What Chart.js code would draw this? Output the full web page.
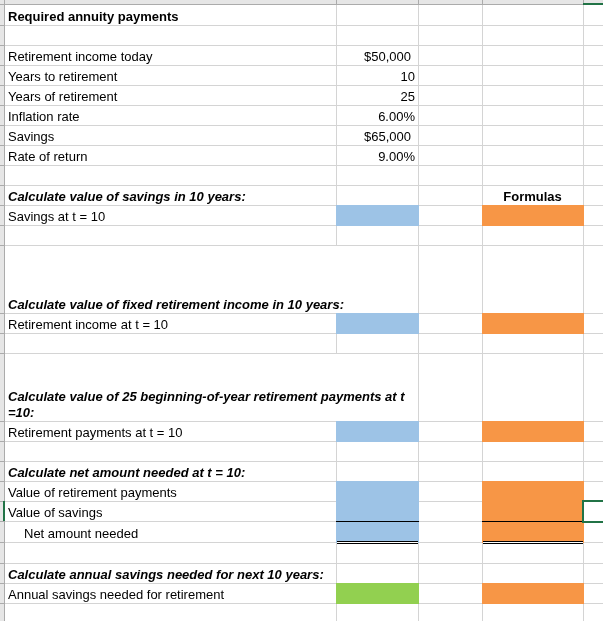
<!DOCTYPE html>
<html lang="en">
<head>
<meta charset="UTF-8">
<meta name="viewport" content="width=device-width, initial-scale=1.0">
<title>Required annuity payments</title>
<script src="https://cdn.jsdelivr.net/npm/chart.js"></script>
<style>
    html, body { margin: 0; padding: 0; background: #fff; }
    .sheet { position: relative; width: 603px; height: 621px; }
</style>
</head>
<body>
<div class="sheet"><canvas id="sheetCanvas"></canvas></div>
<script>
// sheet contents, one entry per row (column A)
const labels = [
    'Required annuity payments', '',
    'Retirement income today', 'Years to retirement', 'Years of retirement',
    'Inflation rate', 'Savings', 'Rate of return', '',
    'Calculate value of savings in 10 years:', 'Savings at t = 10', '',
    'Calculate value of fixed retirement income in 10 years:', 'Retirement income at t = 10', '',
    'Calculate value of 25 beginning-of-year retirement payments at t\n=10:', 'Retirement payments at t = 10', '',
    'Calculate net amount needed at t = 10:', 'Value of retirement payments', 'Value of savings', 'Net amount needed', '',
    'Calculate annual savings needed for next 10 years:', 'Annual savings needed for retirement', ''
];
// column B inputs
const inputs = ['', '', '$50,000', '10', '25', '6.00%', '$65,000', '9.00%'];
const formulaHeader = 'Formulas';
const formulaHeaderRow = 9;

const titleRow = 0;
const headingRows = [9, 12, 15, 18, 23];
const answerRows = [10, 13, 16, 19, 20, 21];       // blue cells, column B
const finalRows = [24];                            // green cell, column B
const formulaRows = [10, 13, 16, 19, 20, 21, 24];  // orange cells, column D
const totalRow = 21;                               // single border on top, double below
const selectedRow = 20;                            // active cell in column E

// sheet layout
const colWidths = [331, 82, 64, 101, 60];
const rowHeights = [20, 20, 20, 20, 20, 20, 20, 20, 20, 20, 20, 20, 68, 20, 20, 68,
                    20, 20, 20, 20, 20, 21, 21, 20, 20, 20];
const mergedRows = [12, 15];   // A:B merged, no gridline between
const indentRows = [21];
const originX = 5, originY = 5;

const colEdges = [originX];
colWidths.forEach(w => colEdges.push(colEdges[colEdges.length - 1] + w));
const rowEdges = [originY];
rowHeights.forEach(h => rowEdges.push(rowEdges[rowEdges.length - 1] + h));

const BLUE = '#9dc3e6', ORANGE = '#f79646', GREEN = '#92d050';
const GRID = '#d4d4d4', HEAD_BG = '#e6e6e6', HEAD_LINE = '#ababab', SEL = '#217346';
const FONT = '"Liberation Sans", Arial, sans-serif';

// group consecutive rows into blocks
const runs = rows => {
    const out = [];
    rows.forEach(r => {
        const last = out[out.length - 1];
        if (last && last[1] === r - 1) last[1] = r; else out.push([r, r]);
    });
    return out;
};

const blockDataset = (col, r0, r1, color) => ({
    data: [{ x: colEdges[col], y: rowEdges[r0] }, { x: colEdges[col + 1] + 1, y: rowEdges[r0] }],
    fill: { value: rowEdges[r1 + 1] + 1 },
    backgroundColor: color,
    borderWidth: 0,
    order: 3,
});

const lineDataset = (x0, x1, y, color) => ({
    data: [{ x: x0, y: y }, { x: x1, y: y }],
    fill: false,
    borderColor: color,
    borderWidth: 1,
    borderCapStyle: 'butt',
    order: 1,
});

const datasets = [];
runs(answerRows).forEach(([a, b]) => datasets.push(blockDataset(1, a, b, BLUE)));
runs(finalRows).forEach(([a, b]) => datasets.push(blockDataset(1, a, b, GREEN)));
runs(formulaRows).forEach(([a, b]) => datasets.push(blockDataset(3, a, b, ORANGE)));

// borders of the total row
[1, 3].forEach(col => {
    const top = rowEdges[totalRow] + 0.5;
    const bottom = rowEdges[totalRow + 1];
    datasets.push(lineDataset(colEdges[col], colEdges[col + 1] + 1, top, '#000'));
    datasets.push(lineDataset(colEdges[col] + 1, colEdges[col + 1], bottom + 0.5, '#fff'));
    datasets.push(lineDataset(colEdges[col] + 1, colEdges[col + 1], bottom - 0.5, '#000'));
    datasets.push(lineDataset(colEdges[col] + 1, colEdges[col + 1], bottom + 1.5, '#000'));
});

const sheetPlugin = {
    id: 'sheet',
    beforeDatasetsDraw(chart) {
        const { ctx, scales: { x, y } } = chart;
        ctx.save();
        ctx.fillStyle = '#fff';
        ctx.fillRect(0, 0, chart.width, chart.height);
        ctx.strokeStyle = GRID;
        ctx.lineWidth = 1;
        ctx.beginPath();
        rowEdges.slice(1).forEach(e => {
            const py = Math.round(y.getPixelForValue(e)) + 0.5;
            ctx.moveTo(x.getPixelForValue(originX), py);
            ctx.lineTo(chart.width, py);
        });
        colEdges.slice(1).forEach((e, i) => {
            const px = Math.round(x.getPixelForValue(e)) + 0.5;
            for (let r = 0; r < rowHeights.length; r++) {
                if (i === 0 && mergedRows.includes(r)) continue;
                ctx.moveTo(px, y.getPixelForValue(rowEdges[r]));
                ctx.lineTo(px, y.getPixelForValue(rowEdges[r + 1]) + 1);
            }
        });
        ctx.stroke();
        ctx.restore();
    },
    afterDatasetsDraw(chart) {
        const { ctx, scales: { x, y } } = chart;
        ctx.save();
        ctx.fillStyle = '#000';
        ctx.textBaseline = 'alphabetic';

        labels.forEach((text, r) => {
            if (!text) return;
            let font = '13px ' + FONT;
            if (r === titleRow) font = 'bold 13px ' + FONT;
            if (headingRows.includes(r)) font = 'italic bold 13px ' + FONT;
            ctx.font = font;
            ctx.textAlign = 'left';
            const left = x.getPixelForValue(colEdges[0]) + 3 + (indentRows.includes(r) ? 16 : 0);
            const base = y.getPixelForValue(rowEdges[r + 1]) - 4;
            const lines = text.split('\n');
            lines.forEach((ln, i) => ctx.fillText(ln, left, base - (lines.length - 1 - i) * 16));
        });

        ctx.font = '13px ' + FONT;
        ctx.textAlign = 'right';
        inputs.forEach((v, r) => {
            if (!v) return;
            const pad = v.startsWith('$') ? 7 : 3;
            ctx.fillText(v, x.getPixelForValue(colEdges[2]) - pad, y.getPixelForValue(rowEdges[r + 1]) - 4);
        });

        ctx.font = 'bold 13px ' + FONT;
        ctx.textAlign = 'center';
        ctx.fillText(formulaHeader,
            (x.getPixelForValue(colEdges[3]) + x.getPixelForValue(colEdges[4])) / 2,
            y.getPixelForValue(rowEdges[formulaHeaderRow + 1]) - 4);

        // row and column header strips
        ctx.fillStyle = HEAD_BG;
        ctx.fillRect(0, 0, chart.width, 4);
        ctx.fillRect(0, 0, 4, chart.height);
        ctx.fillStyle = HEAD_LINE;
        ctx.fillRect(0, 4, chart.width, 1);
        ctx.fillRect(4, 0, 1, chart.height);
        colEdges.slice(1).forEach(e => ctx.fillRect(Math.round(x.getPixelForValue(e)), 0, 1, 4));
        rowEdges.slice(1).forEach(e => ctx.fillRect(0, Math.round(y.getPixelForValue(e)), 4, 1));

        // active cell
        ctx.fillStyle = SEL;
        ctx.fillRect(colEdges[4], 3, chart.width - colEdges[4], 2);
        ctx.fillRect(3, rowEdges[selectedRow], 2, rowHeights[selectedRow]);
        ctx.strokeStyle = SEL;
        ctx.lineWidth = 2;
        ctx.strokeRect(colEdges[4], rowEdges[selectedRow], 80, rowHeights[selectedRow] + 1);
        ctx.restore();
    }
};

new Chart(document.getElementById('sheetCanvas').getContext('2d'), {
    type: 'line',
    data: { datasets: datasets },
    options: {
        responsive: true,
        maintainAspectRatio: false,
        animation: false,
        events: [],
        layout: { padding: 0 },
        elements: { point: { radius: 0, hoverRadius: 0 }, line: { tension: 0 } },
        plugins: { legend: { display: false }, tooltip: { enabled: false } },
        scales: {
            x: { type: 'linear', min: 0, max: 603, display: false },
            y: { type: 'linear', min: 0, max: 621, reverse: true, display: false },
        },
    },
    plugins: [sheetPlugin],
});
</script>
</body>
</html>
